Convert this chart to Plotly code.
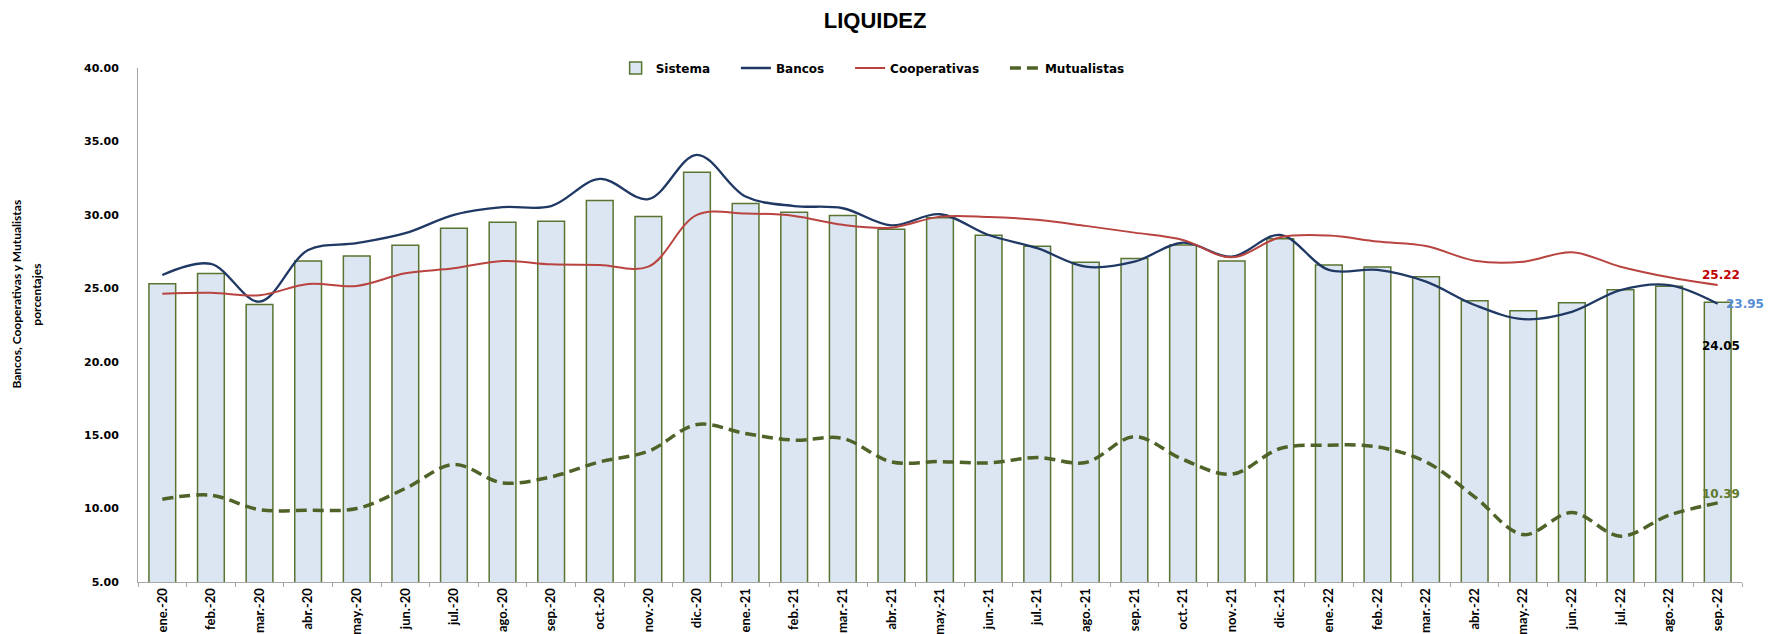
import plotly.graph_objects as go

# Monthly liquidity ratios (%), Jan-2020 to Sep-2022
meses = [
    "ene.-20", "feb.-20", "mar.-20", "abr.-20", "may.-20", "jun.-20", "jul.-20",
    "ago.-20", "sep.-20", "oct.-20", "nov.-20", "dic.-20", "ene.-21", "feb.-21",
    "mar.-21", "abr.-21", "may.-21", "jun.-21", "jul.-21", "ago.-21", "sep.-21",
    "oct.-21", "nov.-21", "dic.-21", "ene.-22", "feb.-22", "mar.-22", "abr.-22",
    "may.-22", "jun.-22", "jul.-22", "ago.-22", "sep.-22",
]

sistema = [
    25.31, 26.00, 23.90, 26.86, 27.20, 27.93, 29.09, 29.50, 29.57, 30.97, 29.88,
    32.90, 30.77, 30.18, 29.95, 29.02, 29.81, 28.61, 27.86, 26.77, 27.02, 27.95,
    26.86, 28.38, 26.59, 26.45, 25.79, 24.15, 23.47, 24.02, 24.90, 25.14, 24.05,
]

bancos = [
    25.90, 26.66, 24.09, 27.60, 28.07, 28.75, 30.00, 30.52, 30.60, 32.45, 31.07,
    34.09, 31.25, 30.60, 30.45, 29.29, 30.04, 28.63, 27.73, 26.47, 26.81, 28.11,
    27.15, 28.63, 26.25, 26.25, 25.45, 23.86, 22.90, 23.40, 24.88, 25.22, 23.95,
]

cooperativas = [
    24.63, 24.70, 24.52, 25.29, 25.16, 26.02, 26.36, 26.86, 26.63, 26.59, 26.47,
    30.00, 30.09, 29.93, 29.32, 29.13, 29.88, 29.86, 29.66, 29.25, 28.79, 28.29,
    27.11, 28.47, 28.59, 28.18, 27.88, 26.88, 26.81, 27.45, 26.47, 25.75, 25.22,
]

mutualistas = [
    10.64, 10.91, 9.93, 9.89, 10.00, 11.37, 13.00, 11.75, 12.16, 13.18, 13.90,
    15.73, 15.11, 14.66, 14.78, 13.18, 13.20, 13.11, 13.48, 13.14, 14.89, 13.34,
    12.34, 14.09, 14.32, 14.20, 13.18, 10.80, 8.23, 9.73, 8.12, 9.55, 10.39,
]

LABEL_FONT = "DejaVu Sans"
TEXT_FONT = "Lato"
PAD = "\u00a0" * 5  # extra room between legend entries

fig = go.Figure()

fig.add_trace(go.Bar(
    x=meses, y=sistema, name="Sistema" + PAD,
    marker=dict(color="#DCE6F2", line=dict(color="#5A7432", width=1.5)),
))
fig.add_trace(go.Scatter(
    x=meses, y=bancos, name="Bancos" + PAD, mode="lines",
    line=dict(color="#1F3864", width=2.3, shape="spline", smoothing=1.0),
))
fig.add_trace(go.Scatter(
    x=meses, y=cooperativas, name="Cooperativas" + PAD, mode="lines",
    line=dict(color="#B8433F", width=2, shape="spline", smoothing=1.0),
))
fig.add_trace(go.Scatter(
    x=meses, y=mutualistas, name="Mutualistas", mode="lines",
    line=dict(color="#4F6228", width=3.5, dash="11px,6px", shape="spline", smoothing=1.0),
))

# Closing-value labels for the last month
ultimo = meses[-1]
end_labels = [
    (cooperativas[-1], "#C00000", 3, 10),
    (bancos[-1], "#558ED5", 27, 0),
    (sistema[-1], "#000000", 3, -44),
    (mutualistas[-1], "#5E7A2E", 3, 9),
]
for val, col, dx, dy in end_labels:
    fig.add_annotation(
        x=ultimo, y=val, text=f"{val:.2f}", showarrow=False,
        xshift=dx, yshift=dy,
        font=dict(family=LABEL_FONT, size=12, color=col, weight="bold"),
    )

# Rotated y-axis title, two lines
for xp, txt in [(-0.0758, "Bancos, Cooperativas y Mutualistas"), (-0.0633, "porcentajes")]:
    fig.add_annotation(
        xref="paper", yref="paper", x=xp, y=0.56, text=txt, showarrow=False,
        textangle=-90, xanchor="center", yanchor="middle",
        font=dict(family=TEXT_FONT, size=12, color="#000000", weight="bold"),
    )

fig.update_layout(
    width=1768, height=634,
    margin=dict(l=138, r=26, t=68, b=52, autoexpand=False),
    paper_bgcolor="white", plot_bgcolor="white",
    title=dict(
        text="LIQUIDEZ", x=0.495, xanchor="center", y=0.968, yanchor="middle",
        xref="container", yref="container",
        font=dict(family="Liberation Sans Narrow, Arial Narrow, Liberation Sans", size=22,
                  color="#000000", weight="bold"),
    ),
    bargap=0.45,
    showlegend=True,
    legend=dict(
        orientation="h", x=0.458, xanchor="center", y=1.0, yanchor="middle",
        xref="paper", yref="paper",
        font=dict(family=LABEL_FONT, size=12, color="#000000", weight="bold"),
        bgcolor="rgba(0,0,0,0)", tracegroupgap=0,
    ),
    xaxis=dict(
        type="category", range=[-0.5, len(meses) - 0.5], tickangle=-90, showgrid=False,
        showline=True, linecolor="#A6A6A6", linewidth=1,
        ticks="outside", ticklen=4, tickcolor="#A6A6A6", tickson="boundaries",
        tickfont=dict(family=TEXT_FONT, size=13, color="#000000", weight="bold"),
    ),
    yaxis=dict(
        range=[5, 40], dtick=5, tickformat=".2f", showgrid=False, zeroline=False,
        showline=True, linecolor="#A6A6A6", linewidth=1, ticks="",
        tickfont=dict(family=LABEL_FONT, size=11, color="#000000", weight="bold"),
        ticklabelstandoff=16,
    ),
)

fig.write_html("out.html")
